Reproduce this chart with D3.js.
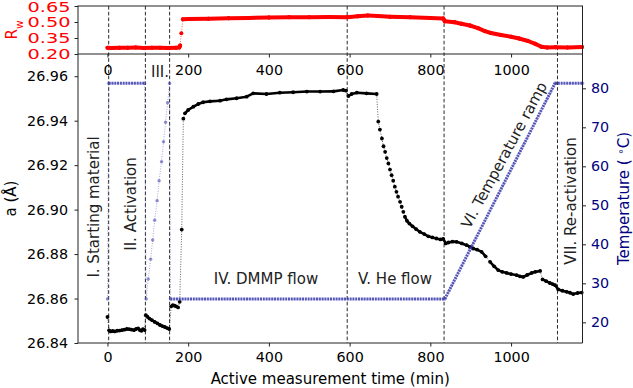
<!DOCTYPE html>
<html>
<head>
<meta charset="utf-8">
<script src="https://cdn.jsdelivr.net/npm/d3@7"></script>
<style>
  body { margin: 0; background: #fff; }
  text { font-family: "DejaVu Sans", sans-serif; }
</style>
</head>
<body>
<div id="chart"></div>
<script>
/* in-situ measurement: lattice parameter, Rw and temperature vs time */

// lattice parameter a (Å), black points
const latticeTime = [0, 4, 8, 13, 18, 24, 30, 36, 42, 48, 54, 60, 66, 71, 76, 80, 84, 88, 92,
  95, 99, 104, 110, 117, 124, 130, 136, 142, 148, 153,
  158, 162, 166, 170, 175, 179, 184,
  188, 192, 200, 213, 225, 237, 254, 279, 295, 320, 345, 361, 394, 427, 460, 494, 527, 560, 584, 591, 597, 605, 618, 642, 667,
  671, 675, 680, 684, 688, 692, 696, 700, 704, 708, 712, 716, 720, 725, 729, 733, 737, 742, 748,
  756, 765, 774, 785, 795, 805, 815, 825, 832, 838, 845, 855, 865, 878, 890, 898, 906, 916, 927, 937,
  948, 958, 968, 978, 989, 1000, 1014, 1022, 1030, 1040, 1051, 1060, 1072, 1078, 1087, 1096, 1103,
  1109, 1117, 1127, 1138, 1146, 1154, 1165, 1175];
const latticeValue = [26.8517, 26.8457, 26.8452, 26.8454, 26.8452, 26.8455, 26.8456, 26.8458, 26.8460, 26.8463, 26.8462, 26.8460, 26.8458, 26.8463, 26.8466, 26.8458, 26.8455, 26.8462, 26.8458,
  26.8525, 26.8518, 26.8510, 26.8503, 26.8495, 26.8488, 26.8481, 26.8476, 26.8472, 26.8467, 26.8463,
  26.8565, 26.8570, 26.8568, 26.8565, 26.8560, 26.8585, 26.8910,
  26.9409, 26.9433, 26.9448, 26.9463, 26.9475, 26.9483, 26.9487, 26.9490, 26.9496, 26.9501, 26.9508, 26.9523, 26.9520, 26.9526, 26.9528, 26.9531, 26.9531, 26.9532, 26.9538, 26.9535, 26.9511, 26.9520, 26.9526, 26.9523, 26.9520,
  26.9396, 26.9360, 26.9320, 26.9285, 26.9260, 26.9232, 26.9208, 26.9180, 26.9155, 26.9130, 26.9103, 26.9080, 26.9058, 26.9035, 26.9013, 26.8990, 26.8968, 26.8950, 26.8937,
  26.8925, 26.8912, 26.8900, 26.8890, 26.8880, 26.8875, 26.8870, 26.8866, 26.8868, 26.8848, 26.8852, 26.8856, 26.8855, 26.8848, 26.8840, 26.8832, 26.8825, 26.8820, 26.8810, 26.8790,
  26.8765, 26.8745, 26.8728, 26.8720, 26.8715, 26.8710, 26.8705, 26.8700, 26.8697, 26.8706, 26.8715, 26.8720, 26.8724, 26.8686, 26.8678, 26.8670, 26.8665,
  26.8660, 26.8641, 26.8635, 26.8630, 26.8626, 26.8620, 26.8625, 26.8627];

// Rw, top panel (red)
const rwTime = [0, 10, 30, 50, 70, 90, 110, 130, 150, 170, 178, 180, 183, 187, 200, 250, 300, 350, 400, 450, 500, 550, 594,
  620, 645, 670, 700, 750, 800, 832, 836, 860, 877, 898, 918, 935, 950, 975, 1000, 1020, 1042, 1060, 1075, 1090, 1110, 1140, 1176];
const rwValue = [0.258, 0.257, 0.259, 0.258, 0.260, 0.257, 0.259, 0.258, 0.257, 0.258, 0.262, 0.280, 0.395, 0.525, 0.527, 0.530, 0.535, 0.538, 0.542, 0.545, 0.545, 0.546, 0.545,
  0.553, 0.560, 0.557, 0.549, 0.544, 0.538, 0.532, 0.506, 0.497, 0.483, 0.467, 0.442, 0.415, 0.397, 0.378, 0.362, 0.345, 0.322, 0.295, 0.268, 0.262, 0.263, 0.262, 0.265];

// temperature (°C), right axis
const tempTime = [0, 3, 92, 96, 101, 107, 112, 117, 123, 128, 134, 139, 144, 149, 154, 156, 836, 1109, 1177];
const tempValue = [26, 81.3, 81.3, 26, 31.1, 36.2, 41.1, 46.2, 51.2, 56.3, 61.2, 66.3, 71.3, 76.3, 81.3, 26, 26, 81.3, 81.3];

// phase boundaries (dashed lines)
const phaseTimes = [3, 94, 154, 594, 834, 1115];

// ticks
const xTicks = [0, 200, 400, 600, 800, 1000];
const aTicks = [26.84, 26.86, 26.88, 26.90, 26.92, 26.94, 26.96];
const rwTicks = [0.20, 0.35, 0.50, 0.65];
const tempTicks = [20, 30, 40, 50, 60, 70, 80];

const width = 633, height = 388;
const left = 78, right = 582.5;
const topY0 = 6, topY1 = 54, mainY1 = 343;
const tempColor = "navy";

let svg = d3.select("#chart").append("svg")
  .attr("width", width).attr("height", height)
  .attr("viewBox", [0, 0, width, height]);

let x = d3.scaleLinear().domain([-73, 1177]).range([left, right]);
let yRw = d3.scaleLinear().domain([0.2, 0.65]).range([topY1, topY0]);
let yA = d3.scaleLinear().domain([26.84, 26.97]).range([mainY1, topY1]);
let yT = d3.scaleLinear().domain([14.7, 88.8]).range([mainY1, topY1]);

// dashed phase lines through both panels
svg.append("g").selectAll("line").data(phaseTimes).join("line")
  .attr("x1", d => x(d)).attr("x2", d => x(d))
  .attr("y1", topY0).attr("y2", mainY1)
  .attr("stroke", "#111").attr("stroke-width", 0.9)
  .attr("stroke-dasharray", "3.6,2.2");

// draws a series: thin dotted connector, thick line where the logging is dense, markers
function drawSeries(times, values, yScale, opt) {
  const pts = times.map((t, i) => [x(t), yScale(values[i]), t]);
  const g = svg.append("g");
  g.append("path")
    .attr("d", d3.line()(pts.map(p => [p[0], p[1]])))
    .attr("fill", "none").attr("stroke", opt.color)
    .attr("stroke-width", 0.8).attr("stroke-dasharray", "1,1.5")
    .attr("opacity", 0.8);
  g.selectAll(".seg").data(d3.pairs(pts).filter(opt.dense)).join("line")
    .attr("x1", d => d[0][0]).attr("y1", d => d[0][1])
    .attr("x2", d => d[1][0]).attr("y2", d => d[1][1])
    .attr("stroke", opt.lineColor || opt.color)
    .attr("stroke-width", opt.width)
    .attr("stroke-linecap", opt.dash ? "butt" : "round")
    .attr("stroke-dasharray", opt.dash || null);
  g.selectAll("circle").data(pts).join("circle")
    .attr("cx", d => d[0]).attr("cy", d => d[1]).attr("r", opt.r)
    .attr("fill", opt.markerColor || opt.color);
}

drawSeries(rwTime, rwValue, yRw, {
  color: "red", width: 4, r: 2,
  dense: d => Math.abs(d[0][1] - d[1][1]) < 5
});
drawSeries(latticeTime, latticeValue, yA, {
  color: "black", width: 2.6, r: 1.9,
  dense: d => Math.abs(d[0][1] - d[1][1]) < 4.5
});
drawSeries(tempTime, tempValue, yT, {
  color: "rgba(70,70,180,0.75)", lineColor: "rgba(60,60,175,0.85)",
  markerColor: "rgba(70,70,180,0.6)", width: 3, r: 1.7, dash: "2,0.8",
  dense: d => d[1][2] - d[0][2] >= 20
});

// frames
svg.append("rect").attr("x", left).attr("y", topY0)
  .attr("width", right - left).attr("height", topY1 - topY0)
  .attr("fill", "none").attr("stroke", "#222").attr("stroke-width", 1);
svg.append("path")
  .attr("d", `M${left},${topY1}V${mainY1}H${right}V${topY1}`)
  .attr("fill", "none").attr("stroke", "#222").attr("stroke-width", 1);

function styleAxis(g, color) {
  g.select(".domain").remove();
  g.selectAll(".tick line").attr("stroke", "#222");
  g.selectAll(".tick text").attr("fill", color)
    .style("font-family", "DejaVu Sans").style("font-size", "14.3px");
}

// top panel axes
svg.append("g").attr("transform", `translate(${left},0)`)
  .call(d3.axisLeft(yRw).tickValues(rwTicks).tickFormat(d3.format(".2f")).tickSize(3.5).tickPadding(4))
  .call(g => styleAxis(g, "red"))
  .call(g => g.selectAll(".tick text").attr("textLength", 43).attr("lengthAdjust", "spacingAndGlyphs")
    .attr("y", d => d === 0.65 ? 1.2 : 0));
svg.append("g").attr("transform", `translate(0,${topY1})`)
  .call(d3.axisBottom(x).tickValues(xTicks).tickFormat(d3.format("d")).tickSize(3.5).tickPadding(7))
  .call(g => styleAxis(g, "black"));

// main panel axes
svg.append("g").attr("transform", `translate(${left},0)`)
  .call(d3.axisLeft(yA).tickValues(aTicks).tickFormat(d3.format(".2f")).tickSize(3.5).tickPadding(6.5))
  .call(g => styleAxis(g, "black"));
svg.append("g").attr("transform", `translate(0,${mainY1})`)
  .call(d3.axisBottom(x).tickValues(xTicks).tickFormat(d3.format("d")).tickSize(3.5).tickPadding(5.5))
  .call(g => styleAxis(g, "black"));
svg.append("g").attr("transform", `translate(${right},0)`)
  .call(d3.axisRight(yT).tickValues(tempTicks).tickSize(3.5).tickPadding(5))
  .call(g => styleAxis(g, tempColor));

// axis titles
svg.append("text").attr("x", (left + right) / 2).attr("y", 384)
  .attr("text-anchor", "middle").style("font-size", "15px")
  .text("Active measurement time (min)");
svg.append("text").attr("transform", `translate(11,${(topY1 + mainY1) / 2}) rotate(-90)`)
  .attr("text-anchor", "middle").attr("dy", "0.35em").style("font-size", "15px")
  .text("a (Å)");
let rwLabel = svg.append("text").attr("transform", `translate(12,${(topY0 + topY1) / 2}) rotate(-90)`)
  .attr("text-anchor", "middle").attr("dy", "0.35em").attr("fill", "red").style("font-size", "15px");
rwLabel.append("tspan").text("R");
rwLabel.append("tspan").attr("baseline-shift", "sub").style("font-size", "10.5px").text("w");
let tLabel = svg.append("text").attr("transform", `translate(624,${(topY1 + mainY1) / 2}) rotate(-90)`)
  .attr("text-anchor", "middle").attr("dy", "0.35em").attr("fill", tempColor).style("font-size", "15px");
tLabel.append("tspan").text("Temperature ( ");
tLabel.append("tspan").attr("baseline-shift", "super").style("font-size", "10px").text("∘");
tLabel.append("tspan").text("C)");

// phase annotations
const note = (tr, txt) => svg.append("text").attr("transform", tr)
  .attr("text-anchor", "middle").attr("dy", "0.35em")
  .style("font-size", "15px").attr("fill", "#222").text(txt);
note("translate(93.5,207) rotate(-90)", "I. Starting material");
note("translate(131,204) rotate(-90)", "II. Activation");
note("translate(160,72)", "III.");
note("translate(266,279)", "IV. DMMP flow");
note("translate(395,279)", "V. He flow");
note("translate(504,155) rotate(-61.6)", "VI. Temperature ramp");
note("translate(570.5,201) rotate(-90)", "VII. Re-activation");
</script>
</body>
</html>
